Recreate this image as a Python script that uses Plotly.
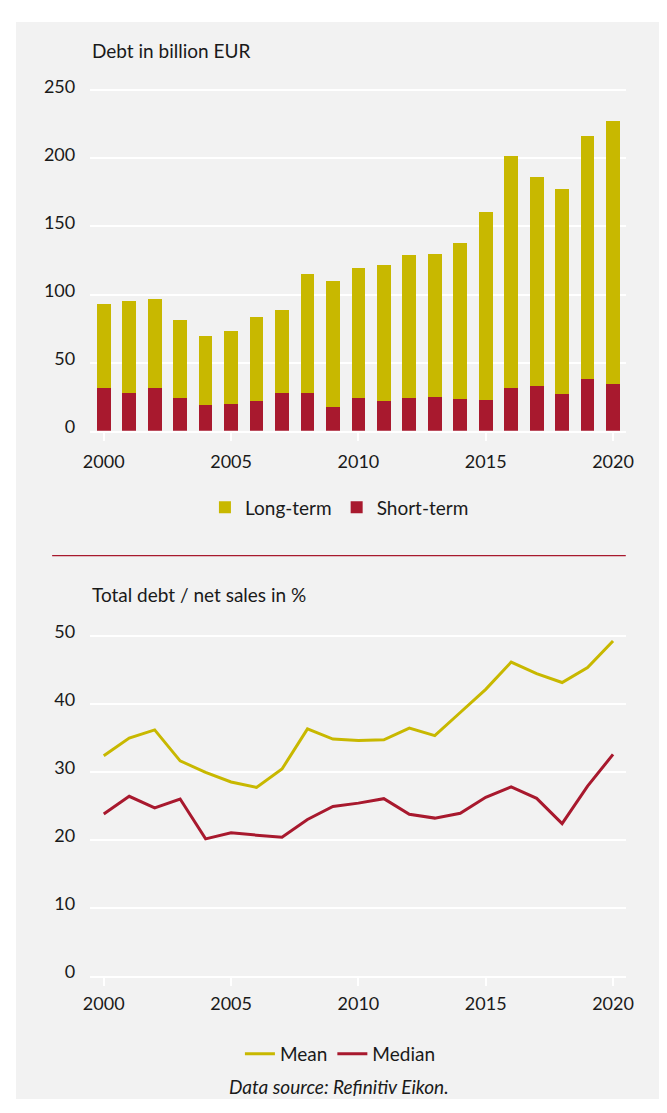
import plotly.graph_objects as go

years = list(range(2000, 2021))
total_debt = [93.1, 95.2, 96.7, 81.5, 69.3, 72.9, 83.7, 88.7, 115.4, 109.7, 119.8,
              121.9, 129.1, 129.9, 137.8, 160.9, 202.0, 186.1, 177.5, 216.5, 227.3]
short_term = [31.7, 28.1, 31.7, 23.8, 18.8, 19.5, 21.6, 28.1, 28.1, 17.3, 23.8,
              21.6, 23.8, 24.5, 23.1, 22.4, 31.7, 33.2, 26.7, 38.2, 34.6]
long_term = [round(t - s, 1) for t, s in zip(total_debt, short_term)]

mean_ratio = [32.35, 34.95, 36.15, 31.6, 29.9, 28.5, 27.7, 30.4, 36.3, 34.8, 34.6,
              34.7, 36.4, 35.3, 38.7, 42.1, 46.1, 44.4, 43.1, 45.3, 49.2]
median_ratio = [23.8, 26.4, 24.7, 26.0, 20.15, 21.05, 20.7, 20.4, 23.0, 24.9, 25.4,
                26.05, 23.75, 23.2, 23.9, 26.25, 27.8, 26.1, 22.4, 27.9, 32.55]

top_ticks = [0, 50, 100, 150, 200, 250]
bottom_ticks = [0, 10, 20, 30, 40, 50]
x_ticks = [2000, 2005, 2010, 2015, 2020]

YELLOW = "#C8B800"
RED = "#A8192E"
BG = "#F2F2F2"
TXT = "#1A1A1A"
FONT = "Lato"
FS_TICK = 18
FS_TEXT = 19

# The page body keeps its default 8px margin, so the figure is sized to fit
# the 667x1113 window exactly and page coordinates are offset by 8px.
OFF = 8
W, H = 659, 1097


def px(x):
    return (x - OFF) / W


def py(y):
    return 1 - (y - OFF) / H


fig = go.Figure()

fig.add_trace(go.Bar(x=years, y=short_term, name="Short-term", marker_color=RED,
                     marker_line_width=0, width=0.54, xaxis="x", yaxis="y",
                     legend="legend", legendrank=2))
fig.add_trace(go.Bar(x=years, y=long_term, name="Long-term", marker_color=YELLOW,
                     marker_line_width=0, width=0.54, xaxis="x", yaxis="y",
                     legend="legend", legendrank=1))

fig.add_trace(go.Scatter(x=years, y=mean_ratio, name="Mean", mode="lines",
                         line=dict(color=YELLOW, width=3), xaxis="x2", yaxis="y2",
                         legend="legend2", legendrank=1))
fig.add_trace(go.Scatter(x=years, y=median_ratio, name="Median", mode="lines",
                         line=dict(color=RED, width=3), xaxis="x2", yaxis="y2",
                         legend="legend2", legendrank=2))

xdom = [px(85), px(633)]
xcommon = dict(domain=xdom, range=[1999.47, 2020.5], tickvals=x_ticks,
               showgrid=False, zeroline=False, showline=True, linecolor="white",
               linewidth=2, ticks="outside", tickcolor="white", tickwidth=2,
               ticklen=8, tickfont=dict(size=FS_TICK, color=TXT, family=FONT),
               fixedrange=True)
ycommon = dict(showgrid=True, gridcolor="white", gridwidth=2, zeroline=False,
               showline=False, ticks="", tickfont=dict(size=FS_TICK, color=TXT, family=FONT),
               ticklabelstandoff=14, ticklabelshift=-4, fixedrange=True)

fig.update_layout(
    width=W, height=H,
    margin=dict(l=0, r=0, t=0, b=0),
    paper_bgcolor="white",
    plot_bgcolor="rgba(0,0,0,0)",
    barmode="stack",
    font=dict(family=FONT, color=TXT, size=FS_TEXT),
    xaxis=dict(anchor="y", ticklabelstandoff=6, **xcommon),
    yaxis=dict(anchor="x", domain=[py(425), py(425 - 252 * 1.386)], range=[0, 252],
               tickvals=top_ticks, **ycommon),
    xaxis2=dict(anchor="y2", ticklabelstandoff=2, **xcommon),
    yaxis2=dict(anchor="x2", domain=[py(980), py(980 - 51 * 6.933)], range=[0, 51],
                tickvals=bottom_ticks, **ycommon),
    legend=dict(orientation="h", x=px(340), xanchor="center", y=py(503),
                yanchor="middle", bgcolor="rgba(0,0,0,0)", traceorder="normal",
                itemwidth=30, font=dict(size=FS_TEXT, family=FONT, color=TXT)),
    legend2=dict(orientation="h", x=px(341), xanchor="center", y=py(1059),
                 yanchor="middle", bgcolor="rgba(0,0,0,0)", traceorder="normal",
                 font=dict(size=FS_TEXT, family=FONT, color=TXT)),
    shapes=[
        dict(type="rect", xref="paper", yref="paper", x0=px(9), x1=1, y0=0, y1=py(9),
             fillcolor=BG, line_width=0, layer="below"),
        dict(type="line", xref="paper", yref="paper", x0=px(46), x1=px(633),
             y0=py(552), y1=py(552), line=dict(color=RED, width=1.2)),
    ],
    annotations=[
        dict(text="Debt in billion EUR", xref="paper", yref="paper", x=px(85),
             y=py(38), xanchor="left", yanchor="middle", showarrow=False,
             font=dict(size=FS_TEXT, family=FONT, color=TXT)),
        dict(text="Total debt / net sales in %", xref="paper", yref="paper", x=px(85),
             y=py(592), xanchor="left", yanchor="middle", showarrow=False,
             font=dict(size=FS_TEXT, family=FONT, color=TXT)),
        dict(text="<i>Data source: Refinitiv Eikon.</i>", xref="paper", yref="paper",
             x=px(340), y=py(1092), xanchor="center", yanchor="middle", showarrow=False,
             font=dict(size=FS_TEXT, family=FONT, color=TXT)),
    ],
)

fig.write_html("out.html", config={"displayModeBar": False})
